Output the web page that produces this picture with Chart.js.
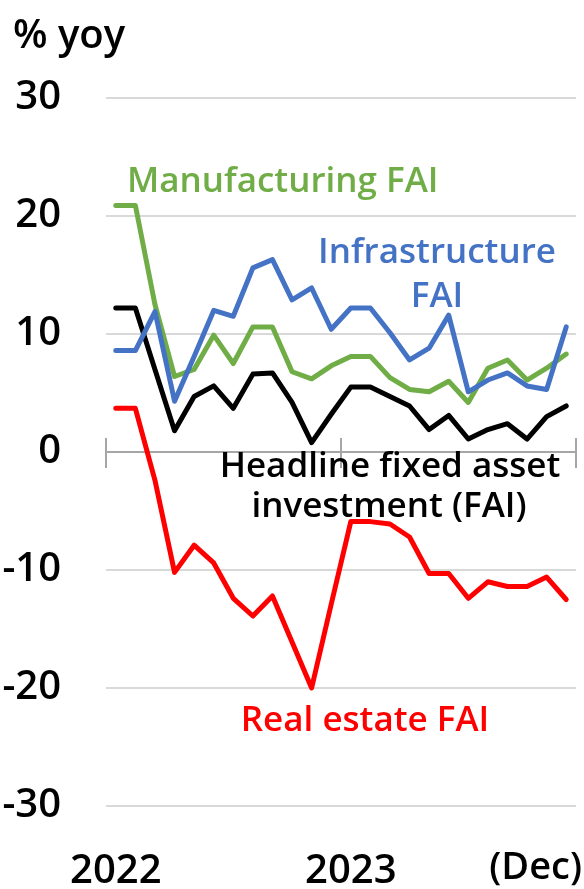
<!DOCTYPE html>
<html>
<head>
<meta charset="utf-8">
<script src="https://cdn.jsdelivr.net/npm/chart.js@4.4.1/dist/chart.umd.min.js"></script>
<style>
  html, body { margin: 0; padding: 0; background: #fff; }
  #wrap { width: 584px; height: 889px; position: relative; }
</style>
</head>
<body>
<div id="wrap"><canvas id="c" width="584" height="889"></canvas></div>
<script>
const months = ['Jan-22','Feb-22','Mar-22','Apr-22','May-22','Jun-22','Jul-22','Aug-22','Sep-22','Oct-22','Nov-22','Dec-22',
                'Jan-23','Feb-23','Mar-23','Apr-23','May-23','Jun-23','Jul-23','Aug-23','Sep-23','Oct-23','Nov-23','Dec-23'];
const yearTicks = { 'Jan-22': '2022', 'Jan-23': '2023' };
const yTicks = [-30, -20, -10, 0, 10, 20, 30];

const headline       = [12.2, 12.2, 7.0, 1.8, 4.7, 5.6, 3.7, 6.6, 6.7, 4.2, 0.8, 3.2, 5.5, 5.5, 4.7, 3.9, 1.9, 3.1, 1.1, 1.9, 2.4, 1.1, 3.0, 3.9];
const manufacturing  = [20.9, 20.9, 12.5, 6.4, 7.0, 9.9, 7.5, 10.6, 10.6, 6.8, 6.2, 7.3, 8.1, 8.1, 6.3, 5.3, 5.1, 6.0, 4.2, 7.1, 7.8, 6.1, 7.1, 8.3];
const infrastructure = [8.6, 8.6, 11.9, 4.3, 8.1, 12.0, 11.5, 15.6, 16.3, 12.9, 13.9, 10.4, 12.2, 12.2, 10.1, 7.8, 8.8, 11.6, 5.1, 6.1, 6.7, 5.6, 5.3, 10.6];
const realEstate     = [3.7, 3.7, -2.4, -10.2, -7.9, -9.4, -12.4, -13.9, -12.2, -16.1, -20.0, -12.9, -5.9, -5.9, -6.1, -7.2, -10.3, -10.3, -12.4, -11.0, -11.4, -11.4, -10.6, -12.5];

const FONT = "'Open Sans', 'Noto Sans', sans-serif";

const textPlugin = {
  id: 'texts',
  afterDraw(chart) {
    const ctx = chart.ctx;
    const items = [
      { t: '% yoy', x: 13, y: 48, c: '#000', a: 'left', s: 40 },
      { t: 'Manufacturing FAI', x: 127, y: 192, c: '#70ad47', a: 'left', s: 35 },
      { t: 'Infrastructure', x: 437, y: 263, c: '#4472c4', a: 'center', s: 35 },
      { t: 'FAI', x: 437, y: 307, c: '#4472c4', a: 'center', s: 35 },
      { t: 'Headline fixed asset', x: 390, y: 477, c: '#000', a: 'center', s: 35 },
      { t: 'investment (FAI)', x: 389, y: 517, c: '#000', a: 'center', s: 35 },
      { t: 'Real estate FAI', x: 365, y: 731, c: '#ff0000', a: 'center', s: 35 },
      { t: '(Dec)', x: 582, y: 879, c: '#000', a: 'right', s: 38 }
    ];
    ctx.save();
    ctx.textBaseline = 'alphabetic';
    for (const it of items) {
      ctx.font = '600 ' + it.s + 'px ' + FONT;
      ctx.fillStyle = it.c;
      ctx.textAlign = it.a;
      ctx.fillText(it.t, it.x, it.y);
    }
    ctx.restore();
  }
};

const lineDs = (label, data, color) => ({
  label, data,
  borderColor: color, backgroundColor: color,
  borderWidth: 5, pointRadius: 0, tension: 0,
  borderJoinStyle: 'round', borderCapStyle: 'round', fill: false
});

new Chart(document.getElementById('c'), {
  type: 'line',
  data: {
    labels: months,
    datasets: [
      lineDs('Infrastructure FAI', infrastructure, '#4472c4'),
      lineDs('Manufacturing FAI', manufacturing, '#70ad47'),
      lineDs('Real estate FAI', realEstate, '#ff0000'),
      lineDs('Headline fixed asset investment (FAI)', headline, '#000000')
    ]
  },
  options: {
    responsive: false,
    animation: false,
    devicePixelRatio: 1,
    layout: { padding: { top: 98, right: 8, left: 0, bottom: 0 } },
    plugins: { legend: { display: false }, tooltip: { enabled: false }, title: { display: false } },
    scales: {
      x: {
        type: 'category',
        position: 'bottom',
        offset: true,
        grid: { display: false, drawTicks: false },
        border: { display: false },
        ticks: {
          autoSkip: false, maxRotation: 0, minRotation: 0, padding: 42,
          color: '#000', font: { family: FONT, size: 40, weight: '600' },
          callback: function(v, i) { const l = this.getLabelForValue(v); return yearTicks[l] || ''; }
        },
        afterFit(s) { s.height = 83; s.paddingLeft = 0; s.paddingRight = 0; }
      },
      x2: {
        type: 'category',
        position: { y: 1.2 },
        offset: true,
        grid: {
          offset: true, drawOnChartArea: false, drawTicks: true, tickLength: 30, lineWidth: 2,
          color: (ctx) => (ctx.index === undefined || ctx.index % 12 === 0) ? '#a6a6a6' : 'rgba(0,0,0,0)'
        },
        border: { display: false },
        ticks: { display: false },
        afterFit(s) { s.paddingLeft = 0; s.paddingRight = 0; }
      },
      y: {
        min: -30, max: 30,
        afterBuildTicks(s) { s.ticks = yTicks.map(v => ({ value: v })); },
        grid: {
          drawTicks: false, lineWidth: 2,
          color: (ctx) => (ctx.tick && ctx.tick.value === 0) ? '#a6a6a6' : '#d9d9d9'
        },
        border: { display: false },
        ticks: { padding: 45, color: '#000', font: { family: FONT, size: 40, weight: '600' } },
        afterFit(s) { s.width = 106; }
      }
    }
  },
  plugins: [textPlugin]
});
</script>
</body>
</html>
